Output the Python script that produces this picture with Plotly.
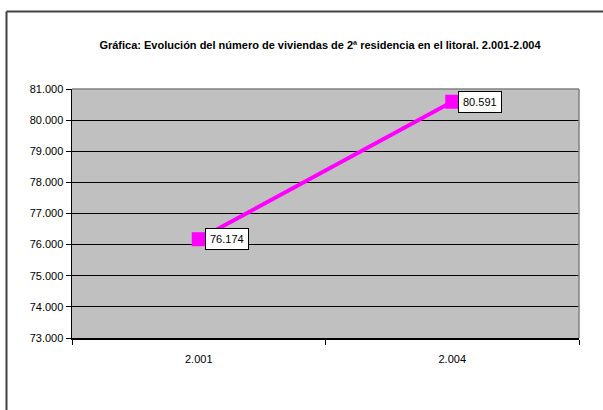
import plotly.graph_objects as go

years = ["2.001", "2.004"]
viviendas = [76174, 80591]
title_text = "Gráfica: Evolución del número de viviendas de 2ª residencia en el litoral. 2.001-2.004"

FONT = "Liberation Sans, Arial, sans-serif"

fig = go.Figure()
fig.add_trace(go.Scatter(
    x=years, y=viviendas, mode="lines+markers",
    line=dict(color="#FF00FF", width=4),
    marker=dict(symbol="square", size=14, color="#FF00FF"),
    cliponaxis=False, hoverinfo="skip", showlegend=False,
))

for i, v in enumerate(viviendas):
    lbl = f"{v:,}".replace(",", ".")
    fig.add_annotation(
        x=i, y=v, xref="x", yref="y", text=lbl, showarrow=False,
        xanchor="left", yanchor="middle", xshift=6,
        bgcolor="white", bordercolor="black", borderwidth=1, borderpad=4,
        font=dict(family=FONT, size=11, color="black"),
    )

L, R, T, B = 72, 24, 89, 72
W, H = 603, 410
pw, ph = W - L - R, H - T - B

def px(xp):
    return (xp - L) / pw

def py(yp):
    return (H - B - yp) / ph

shapes = [
    dict(type="line", xref="paper", yref="paper", x0=0, x1=1, y0=1, y1=1,
         line=dict(color="#808080", width=1.5), layer="above"),
    dict(type="line", xref="paper", yref="paper", x0=1, x1=1, y0=0, y1=1,
         line=dict(color="#808080", width=1.5), layer="above"),
    dict(type="line", xref="paper", yref="paper", x0=px(6.5), x1=px(6.5),
         y0=py(11.5), y1=py(H + 5), line=dict(color="#404040", width=2)),
    dict(type="line", xref="paper", yref="paper", x0=px(6.5), x1=px(W + 5),
         y0=py(11.5), y1=py(11.5), line=dict(color="#404040", width=2)),
]

fig.update_layout(
    width=W, height=H,
    margin=dict(l=L, r=R, t=T, b=B),
    paper_bgcolor="white", plot_bgcolor="#C0C0C0",
    separators=",.",
    font=dict(family=FONT, size=11, color="black"),
    title=dict(text=f"<b>{title_text}</b>", xref="container", yref="container",
               x=320 / W, y=1 - 45 / H, xanchor="center", yanchor="middle",
               font=dict(family=FONT, size=11, color="black")),
    shapes=shapes,
    xaxis=dict(type="category", range=[-0.5, 1.5], tickson="boundaries",
               ticks="outside", ticklen=5, tickcolor="black",
               showline=True, linecolor="black", linewidth=1.5,
               showgrid=False, zeroline=False, ticklabelstandoff=10,
               tickfont=dict(family=FONT, size=11)),
    yaxis=dict(range=[73000, 81000], dtick=1000, tickformat=",d",
               ticks="outside", ticklen=5, tickcolor="black",
               showline=True, linecolor="black", linewidth=1.5,
               showgrid=True, gridcolor="#000000", gridwidth=1,
               zeroline=False, automargin=False,
               tickfont=dict(family=FONT, size=11)),
)

fig.write_html("out.html",
               config={"displayModeBar": False, "staticPlot": True},
               post_script="document.body.style.margin='0';document.body.style.overflow='hidden';")
